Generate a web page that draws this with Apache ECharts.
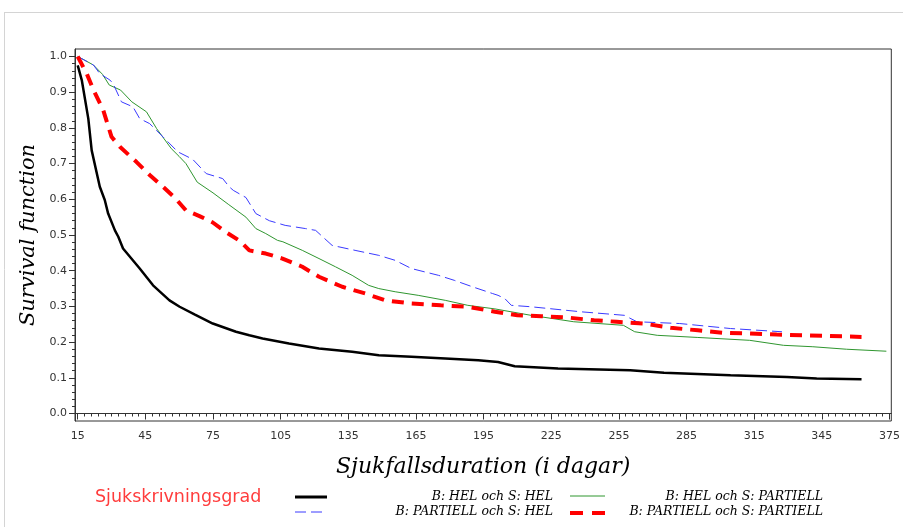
<!DOCTYPE html>
<html>
<head>
<meta charset="utf-8">
<script src="https://cdn.jsdelivr.net/npm/echarts@6/dist/echarts.min.js"></script>
<style>
  html, body { margin: 0; padding: 0; background: #fff; }
  #chart { width: 903px; height: 527px; }
</style>
</head>
<body>
<div id="chart"></div>
<script>
// B: HEL och S: HEL (svart)
var helHelDays = [15, 16.8, 19.7, 21.2, 24.8, 27, 28.5, 31.5, 33, 35.1, 42.5, 48.4, 55.7, 60.2, 67, 74.9, 85.2, 91.1, 97, 108.7, 122, 136.7, 148.5, 163, 178, 192.6, 201.4, 208.8, 228, 260, 275, 304.5, 329.5, 342.7, 362.6];
var helHelSurv = [0.975, 0.934, 0.826, 0.737, 0.635, 0.598, 0.56, 0.513, 0.495, 0.462, 0.406, 0.359, 0.317, 0.299, 0.277, 0.252, 0.229, 0.219, 0.21, 0.196, 0.182, 0.173, 0.163, 0.159, 0.154, 0.149, 0.1445, 0.1325, 0.126, 0.121, 0.114, 0.107, 0.1025, 0.098, 0.096];

// B: HEL och S: PARTIELL (grön)
var helPartDays = [15, 18, 22, 26, 29, 34, 39, 45.5, 50, 56.5, 60, 63, 68, 75, 82, 89.6, 94, 98.4, 103.6, 106, 114.6, 122, 129.3, 136.7, 144, 148.5, 155.8, 166, 178, 188, 200, 216, 235, 257, 262, 272, 290, 313, 328, 341, 356, 373.6];
var helPartSurv = [1.0, 0.99, 0.976, 0.95, 0.92, 0.906, 0.873, 0.845, 0.798, 0.742, 0.72, 0.70, 0.648, 0.618, 0.585, 0.55, 0.518, 0.504, 0.485, 0.481, 0.457, 0.434, 0.411, 0.387, 0.359, 0.35, 0.341, 0.331, 0.317, 0.303, 0.293, 0.275, 0.257, 0.247, 0.229, 0.219, 0.213, 0.205, 0.191, 0.187, 0.18, 0.1745];

// B: PARTIELL och S: HEL (blå)
var partHelDays = [15, 22, 24.8, 29.3, 30.7, 34.4, 39.5, 42.5, 46.9, 52.8, 59.4, 66, 72, 79.3, 82.2, 84, 89.6, 94, 100, 107, 116, 120.5, 127.8, 138, 148.5, 155.8, 163, 175, 182, 190, 199, 201.4, 204.4, 207.3, 216, 238, 257.4, 263, 282, 304.5, 327.3];
var partHelSurv = [1.0, 0.976, 0.952, 0.934, 0.924, 0.873, 0.859, 0.826, 0.812, 0.775, 0.733, 0.712, 0.672, 0.658, 0.635, 0.625, 0.605, 0.56, 0.54, 0.527, 0.518, 0.513, 0.471, 0.457, 0.443, 0.429, 0.406, 0.387, 0.373, 0.355, 0.336, 0.331, 0.322, 0.303, 0.299, 0.285, 0.275, 0.257, 0.252, 0.238, 0.229];

// B: PARTIELL och S: PARTIELL (röd)
var partPartDays = [15, 19, 22, 26.3, 30, 33.7, 41, 46.9, 52.8, 58, 63, 69, 74.9, 81, 87, 91.1, 98.4, 105.8, 114.6, 122, 132.3, 142.6, 151.4, 163, 176, 188, 200, 210, 220.6, 232, 244, 254, 266, 278, 290, 301.5, 313, 325, 337, 348.6, 362.6];
var partPartSurv = [1.0, 0.952, 0.906, 0.85, 0.775, 0.747, 0.705, 0.668, 0.635, 0.605, 0.569, 0.553, 0.535, 0.507, 0.483, 0.457, 0.448, 0.434, 0.411, 0.383, 0.355, 0.336, 0.317, 0.308, 0.303, 0.299, 0.285, 0.275, 0.2725, 0.269, 0.261, 0.257, 0.252, 0.24, 0.233, 0.226, 0.224, 0.221, 0.219, 0.217, 0.2145];

var xTicks = [15, 45, 75, 105, 135, 165, 195, 225, 255, 285, 315, 345, 375];
var yTicks = [0.0, 0.1, 0.2, 0.3, 0.4, 0.5, 0.6, 0.7, 0.8, 0.9, 1.0];

var xMinor = [];
for (var i = 15; i <= 375; i += 3) xMinor.push(i);
var yMinor = [];
for (var j = 0; j <= 50; j++) yMinor.push(j / 50);

function zip(a, b) {
  return a.map(function (d, k) { return [d, b[k]]; });
}

var legFont = 'italic 12.5px "DejaVu Serif"';

var chart = echarts.init(document.getElementById('chart'));

var option = {
  animation: false,
  backgroundColor: '#fff',
  grid: {
    left: 75, top: 49, width: 820, height: 372,
    show: true, borderColor: '#333', borderWidth: 1
  },
  xAxis: [{
    type: 'value',
    min: 13.8, max: 375.8,
    name: 'Sjukfallsduration (i dagar)',
    nameLocation: 'middle',
    nameGap: 35,
    nameTextStyle: { fontFamily: 'DejaVu Serif', fontStyle: 'italic', fontSize: 22, color: '#000' },
    axisLine: { show: true, lineStyle: { color: '#333' } },
    axisTick: { show: true, length: 6, customValues: xTicks, lineStyle: { color: '#333' } },
    axisLabel: {
      customValues: xTicks, margin: 10,
      fontFamily: 'DejaVu Sans', fontSize: 11, color: '#333'
    },
    splitLine: { show: false }
  }, {
    type: 'value',
    position: 'bottom',
    min: 13.8, max: 375.8,
    axisLine: { show: false },
    axisTick: { show: true, length: 3, customValues: xMinor, lineStyle: { color: '#333' } },
    axisLabel: { show: false },
    splitLine: { show: false }
  }],
  yAxis: [{
    type: 'value',
    min: -0.021, max: 1.021,
    name: 'Survival function',
    nameLocation: 'middle',
    nameGap: 34,
    nameTextStyle: { fontFamily: 'DejaVu Serif', fontStyle: 'italic', fontSize: 21, color: '#000' },
    axisLine: { show: true, lineStyle: { color: '#333' } },
    axisTick: { show: true, length: 6, customValues: yTicks, lineStyle: { color: '#333' } },
    axisLabel: {
      customValues: yTicks, margin: 8,
      fontFamily: 'DejaVu Sans', fontSize: 11, color: '#333',
      formatter: function (v) { return v.toFixed(1); }
    },
    splitLine: { show: false }
  }, {
    type: 'value',
    position: 'left',
    min: -0.021, max: 1.021,
    axisLine: { show: false },
    axisTick: { show: true, length: 3, customValues: yMinor, lineStyle: { color: '#333' } },
    axisLabel: { show: false },
    splitLine: { show: false }
  }],
  series: [{
    name: 'B: HEL och S: HEL',
    type: 'line',
    data: zip(helHelDays, helHelSurv),
    showSymbol: false,
    lineStyle: { color: '#000', width: 2.5 }
  }, {
    name: 'B: HEL och S: PARTIELL',
    type: 'line',
    data: zip(helPartDays, helPartSurv),
    showSymbol: false,
    lineStyle: { color: '#2f962f', width: 1 }
  }, {
    name: 'B: PARTIELL och S: HEL',
    type: 'line',
    data: zip(partHelDays, partHelSurv),
    showSymbol: false,
    lineStyle: { color: '#3a3aff', width: 1, type: [11, 5] }
  }, {
    name: 'B: PARTIELL och S: PARTIELL',
    type: 'line',
    data: zip(partPartDays, partPartSurv),
    showSymbol: false,
    lineStyle: { color: '#ff0000', width: 4, type: [12, 8] }
  }],
  graphic: [
    // ram runt sidan
    { type: 'line', shape: { x1: 5, y1: 12.5, x2: 903, y2: 12.5 }, style: { stroke: '#d4d4d4', lineWidth: 1 } },
    { type: 'line', shape: { x1: 4.5, y1: 12, x2: 4.5, y2: 527 }, style: { stroke: '#d4d4d4', lineWidth: 1 } },
    // legend
    { type: 'text', style: { text: 'Sjukskrivningsgrad', x: 95, y: 497, verticalAlign: 'middle', font: '17.5px "DejaVu Sans"', fill: '#ff3c3c' } },
    { type: 'line', shape: { x1: 295, y1: 497, x2: 327, y2: 497 }, style: { stroke: '#000', lineWidth: 3 } },
    { type: 'text', style: { text: 'B: HEL och S: HEL', x: 553, y: 497, align: 'right', verticalAlign: 'middle', font: legFont, fill: '#000' } },
    { type: 'line', shape: { x1: 570, y1: 496, x2: 605, y2: 496 }, style: { stroke: '#2f962f', lineWidth: 1 } },
    { type: 'text', style: { text: 'B: HEL och S: PARTIELL', x: 823, y: 497, align: 'right', verticalAlign: 'middle', font: legFont, fill: '#000' } },
    { type: 'line', shape: { x1: 295, y1: 512, x2: 327, y2: 512 }, style: { stroke: '#3a3aff', lineWidth: 1, lineDash: [11, 5] } },
    { type: 'text', style: { text: 'B: PARTIELL och S: HEL', x: 553, y: 512, align: 'right', verticalAlign: 'middle', font: legFont, fill: '#000' } },
    { type: 'line', shape: { x1: 570, y1: 513, x2: 607, y2: 513 }, style: { stroke: '#ff0000', lineWidth: 4, lineDash: [13, 9] } },
    { type: 'text', style: { text: 'B: PARTIELL och S: PARTIELL', x: 823, y: 512, align: 'right', verticalAlign: 'middle', font: legFont, fill: '#000' } }
  ]
};

chart.setOption(option);
</script>
</body>
</html>
